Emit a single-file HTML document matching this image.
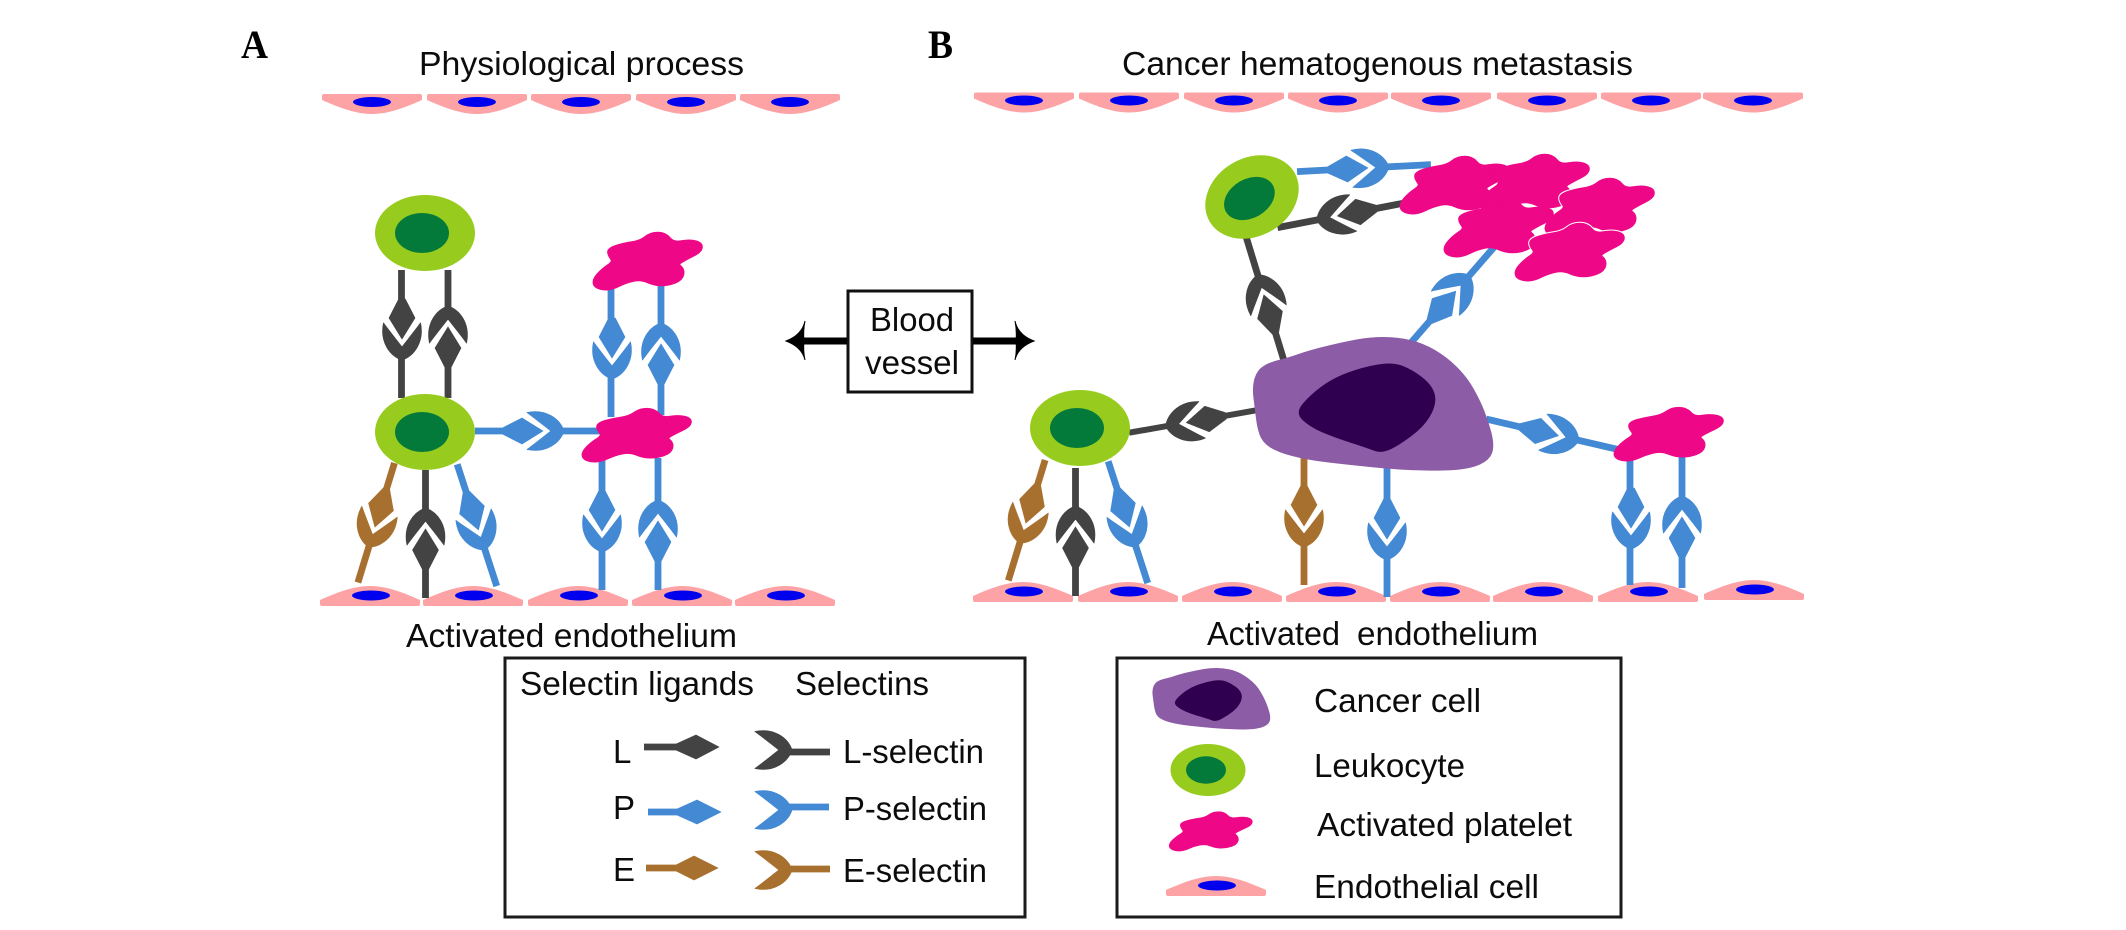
<!DOCTYPE html>
<html lang="en"><head><meta charset="utf-8"><title>Selectins in physiological process and cancer hematogenous metastasis</title>
<style>
html,body{margin:0;padding:0;background:#fff}
svg{display:block}
text{font-family:"Liberation Sans",Arial,sans-serif;font-size:33px;fill:#0c0c0c}
.h{font-family:"Liberation Serif",serif;font-weight:bold;font-size:40px;fill:#000}
.k{fill:#434343;stroke:#434343}
.u{fill:#4389d3;stroke:#4389d3}
.w{fill:#a8702f;stroke:#a8702f}
.ln{fill:none;stroke-width:6.8}
.pl{fill:#ee0787;stroke:#ee0787;stroke-width:4.5;stroke-linejoin:round}
.plw{fill:#fff;stroke:#fff;stroke-width:6.5;stroke-linejoin:round}
</style></head><body>
<svg xmlns="http://www.w3.org/2000/svg" width="2126" height="930" viewBox="0 0 2126 930">
<defs>
<path id="cp" d="M2,20L98,20Q100,20 100,18L100,14C82,6 66,0 50,0C34,0 18,6 0,14L0,18Q0,20 2,20Z"/>
<g id="bc"><use href="#cp" fill="#fda3a6"/><ellipse cx="51" cy="9.5" rx="19" ry="5" fill="#0000ee"/></g>
<g id="tc"><use href="#cp" fill="#fda3a6" transform="translate(0,20) scale(1,-1)"/><ellipse cx="50" cy="8" rx="19" ry="5" fill="#0000ee"/></g>
<path id="sel" stroke-width=".8" stroke-linejoin="round" d="M-18.5,5C-22.5,24 -12,38 0,42C12,38 22.5,24 18.5,5C15,10 7,20 0,29C-7,20 -15,10 -18.5,5Z"/>
<g id="pr"><path stroke-width=".6" d="M-3.3,-19L3.3,-19L13,0L0,21L-13,0Z"/><use href="#sel"/></g>
<g id="leu"><ellipse rx="50" ry="38" fill="#97cc1e"/><ellipse cx="-3" rx="27" ry="20" fill="#037a3a"/></g>
<path id="plt" d="M-31.5,-15Q-25,-17 -16,-18.5Q-7,-20 -2,-24Q3,-28 10,-28Q17,-28 21,-23Q25,-18 33.5,-19.5Q42,-21 47.5,-19.5Q53,-18 52.5,-14.5Q52,-11 45,-7.5Q38,-4 33,-1Q28,2 31.5,5Q35,8 34,12.5Q33,17 26.5,19.5Q20,22 13.5,22Q7,22 0,19Q-7,16 -14.5,17.5Q-22,19 -30,23Q-38,27 -45,26Q-52,25 -53,21.5Q-54,18 -49.5,13Q-45,8 -39,4Q-33,0 -36,-4Q-39,-8 -38.5,-10.5Q-38,-13 -31.5,-15Z"/>
<g id="can">
<path fill="#8d5ca6" d="M1278.5,360Q1287,358 1298.5,354Q1310,350 1326.5,346Q1343,342 1356.5,339.5Q1370,337 1383.5,337Q1397,337 1410,340Q1423,343 1435,350Q1447,357 1457,367Q1467,377 1473.5,388.5Q1480,400 1484,410Q1488,420 1491,431Q1494,442 1493,449.5Q1492,457 1484.5,462Q1477,467 1463.5,469Q1450,471 1425,470.5Q1400,470 1375,467.5Q1350,465 1328.5,462.5Q1307,460 1292,456Q1277,452 1269.5,447Q1262,442 1259.5,434.5Q1257,427 1256,418.5Q1255,410 1253.5,398.5Q1252,387 1254.5,378.5Q1257,370 1263.5,366Q1270,362 1278.5,360Z"/>
<path fill="#2f0050" d="M1302.5,404Q1310,395 1321.5,386.5Q1333,378 1348,372.5Q1363,367 1378,364.5Q1393,362 1403,366Q1413,370 1422.5,377.5Q1432,385 1434.5,393.5Q1437,402 1432,412.5Q1427,423 1417,431.5Q1407,440 1395,447Q1383,454 1375,451Q1367,448 1350,442.5Q1333,437 1321.5,432Q1310,427 1302.5,420Q1295,413 1302.5,404Z"/>
</g>
</defs>

<!-- headings -->
<text class="h" x="241" y="58" textLength="27" lengthAdjust="spacingAndGlyphs">A</text>
<text class="h" x="928" y="58" textLength="25" lengthAdjust="spacingAndGlyphs">B</text>
<text x="419" y="75" textLength="325" lengthAdjust="spacingAndGlyphs">Physiological process</text>
<text x="1122" y="75" textLength="511" lengthAdjust="spacingAndGlyphs">Cancer hematogenous metastasis</text>

<!-- top endothelium A -->
<use href="#tc" x="322" y="94"/><use href="#tc" x="427" y="94"/><use href="#tc" x="531" y="94"/><use href="#tc" x="636" y="94"/><use href="#tc" x="740" y="94"/>
<!-- top endothelium B -->
<use href="#tc" x="974" y="92.5"/><use href="#tc" x="1079" y="92.5"/><use href="#tc" x="1184" y="92.5"/><use href="#tc" x="1288" y="92.5"/><use href="#tc" x="1391" y="92.5"/><use href="#tc" x="1497" y="92.5"/><use href="#tc" x="1601" y="92.5"/><use href="#tc" x="1703" y="92.5"/>
<!-- bottom endothelium A -->
<use href="#bc" x="320" y="586"/><use href="#bc" x="423" y="586"/><use href="#bc" x="528" y="586"/><use href="#bc" x="632" y="586"/><use href="#bc" x="735" y="586"/>
<!-- bottom endothelium B -->
<use href="#bc" x="973" y="582"/><use href="#bc" x="1078" y="582"/><use href="#bc" x="1182" y="582"/><use href="#bc" x="1286" y="582"/><use href="#bc" x="1390" y="582"/><use href="#bc" x="1493" y="582"/><use href="#bc" x="1598" y="582"/><use href="#bc" x="1704" y="580"/>

<!-- panel A pairs -->
<g class="k" transform="translate(402,318)"><use href="#pr"/><path class="ln" d="M-.5,-48V-15M-.5,40V80"/></g>
<g class="k" transform="translate(448,348) rotate(180)"><use href="#pr"/><path class="ln" d="M0,-50V-15M0,40V78"/></g>
<g class="u" transform="translate(522,431) rotate(-90)"><use href="#pr"/><path class="ln" d="M0,-47V-15M0,40V85"/></g>
<g class="u" transform="translate(612,337)"><use href="#pr"/><path class="ln" d="M-1,-49V-15M-1,40V80"/></g>
<g class="u" transform="translate(661,365) rotate(180)"><use href="#pr"/><path class="ln" d="M0,-50V-15M0,40V82"/></g>
<g class="u" transform="translate(602,510)"><use href="#pr"/><path class="ln" d="M0,-52V-15M0,40V80"/></g>
<g class="u" transform="translate(658,542) rotate(180)"><use href="#pr"/><path class="ln" d="M0,-48V-15M0,40V84"/></g>
<g class="k" transform="translate(425.5,550) rotate(180)"><use href="#pr"/><path class="ln" d="M0,-48V-15M0,40V80"/></g>
<g class="w" transform="translate(381,507) rotate(17)"><use href="#pr"/><path class="ln" d="M0,-46V-15M0,40V79"/></g>
<g class="u" transform="translate(472,510) rotate(-18)"><use href="#pr"/><path class="ln" d="M0,-48V-15M0,40V80"/></g>

<!-- panel B pairs -->
<g class="w" transform="translate(1032,503) rotate(17)"><use href="#pr"/><path class="ln" d="M0,-45V-15M0,40V81"/></g>
<g class="k" transform="translate(1075.5,548) rotate(180)"><use href="#pr"/><path class="ln" d="M0,-48V-15M0,40V80"/></g>
<g class="u" transform="translate(1123,507) rotate(-18)"><use href="#pr"/><path class="ln" d="M0,-48V-15M0,40V80"/></g>
<g class="k" transform="translate(1207,419) rotate(80)"><use href="#pr"/><path class="ln" style="stroke-width:6" d="M0,-52V-15M0,40V79"/></g>
<g class="k" transform="translate(1270,315) rotate(163)"><use href="#pr"/><path class="ln" d="M0,-48V-15M0,40V81"/></g>
<g class="u" transform="translate(1347,169) rotate(-93)"><use href="#pr"/><path class="ln" d="M0,-50V-15M0,40V84"/></g>
<g class="k" transform="translate(1358,212) rotate(79)"><use href="#pr"/><path class="ln" d="M0,-52V-15M0,40V82"/></g>
<g class="u" transform="translate(1442,307) rotate(-139)"><use href="#pr"/><path class="ln" d="M0,-48V-15M0,40V85"/></g>
<g class="u" transform="translate(1538,431) rotate(-77)"><use href="#pr"/><path class="ln" d="M0,-53V-15M0,40V82"/></g>
<g class="u" transform="translate(1631,507)"><use href="#pr"/><path class="ln" d="M-1,-52V-15M-1,40V78"/></g>
<g class="u" transform="translate(1682,538) rotate(180)"><use href="#pr"/><path class="ln" d="M0,-50V-15M0,40V82"/></g>
<g class="w" transform="translate(1304,505)"><use href="#pr"/><path class="ln" d="M0,-47V-15M0,40V80"/></g>
<g class="u" transform="translate(1387,518)"><use href="#pr"/><path class="ln" d="M0,-52V-15M0,40V79"/></g>

<!-- leukocytes -->
<use href="#leu" x="425" y="233"/>
<use href="#leu" x="425" y="432"/>
<use href="#leu" x="1080" y="428"/>
<g transform="translate(1252,197) rotate(-30)"><ellipse rx="49" ry="39" fill="#97cc1e"/><ellipse cx="-3" rx="27" ry="19.5" fill="#037a3a"/></g>

<!-- platelets -->
<g class="pl"><use href="#plt" transform="translate(648,262)"/></g>
<g class="pl"><use href="#plt" transform="translate(637,436) scale(1,.93)"/></g>
<g class="pl"><use href="#plt" transform="translate(1669,435) scale(1,.93)"/></g>
<g class="pl"><use href="#plt" transform="translate(1455,186)"/><use href="#plt" transform="translate(1535,184)"/></g>
<g class="plw"><use href="#plt" transform="translate(1600,208)"/></g>
<g class="pl"><use href="#plt" transform="translate(1600,208)"/><use href="#plt" transform="translate(1499,229)"/></g>
<g class="plw"><use href="#plt" transform="translate(1570,253)"/></g>
<g class="pl"><use href="#plt" transform="translate(1570,253)"/></g>

<!-- cancer cell -->
<use href="#can"/>

<!-- blood vessel -->
<rect x="848" y="291" width="124" height="101" fill="#fff" stroke="#111" stroke-width="3"/>
<text x="870" y="331" textLength="84" lengthAdjust="spacingAndGlyphs">Blood</text>
<text x="865" y="374" textLength="94" lengthAdjust="spacingAndGlyphs">vessel</text>
<path d="M793,341H847" stroke="#000" stroke-width="7" fill="none"/>
<path d="M786,341Q802,335 805,321Q803,331 804,341Q803,351 805,360Q802,347 786,341Z" fill="#000" stroke="#000" stroke-width="1"/>
<path d="M973,341H1027" stroke="#000" stroke-width="7" fill="none"/>
<path d="M1034,341Q1018,335 1015,321Q1017,331 1016,341Q1017,351 1015,360Q1018,347 1034,341Z" fill="#000" stroke="#000" stroke-width="1"/>

<!-- captions -->
<text x="406" y="647" textLength="331" lengthAdjust="spacingAndGlyphs">Activated endothelium</text>
<text x="1207" y="645" textLength="133" lengthAdjust="spacingAndGlyphs">Activated</text>
<text x="1357" y="645" textLength="181" lengthAdjust="spacingAndGlyphs">endothelium</text>

<!-- legend A -->
<rect x="505" y="658" width="520" height="259" fill="#fff" stroke="#1a1a1a" stroke-width="3"/>
<text x="520" y="695" textLength="234" lengthAdjust="spacingAndGlyphs">Selectin ligands</text>
<text x="795" y="695" textLength="134" lengthAdjust="spacingAndGlyphs">Selectins</text>
<text x="613" y="763">L</text><text x="613" y="819">P</text><text x="613" y="881">E</text>
<text x="843" y="763" textLength="141" lengthAdjust="spacingAndGlyphs">L-selectin</text>
<text x="843" y="820" textLength="144" lengthAdjust="spacingAndGlyphs">P-selectin</text>
<text x="843" y="882" textLength="144" lengthAdjust="spacingAndGlyphs">E-selectin</text>
<g class="k"><path class="ln" d="M644,747H680"/><path stroke-width=".6" d="M676,744L696,735L719,747L696,759L676,750Z"/></g>
<g class="u"><path class="ln" d="M648,812H680"/><path stroke-width=".6" d="M677,809L697,800L721,812L697,824L677,815Z"/></g>
<g class="w"><path class="ln" d="M646,868H680"/><path stroke-width=".6" d="M676,865L694,856L718,868L694,880L676,871Z"/></g>
<g class="k"><use href="#sel" transform="translate(750,750) rotate(-90)"/><path class="ln" d="M788,752H830"/></g>
<g class="u"><use href="#sel" transform="translate(750,810) rotate(-90)"/><path class="ln" d="M788,807H829"/></g>
<g class="w"><use href="#sel" transform="translate(750,870) rotate(-90)"/><path class="ln" d="M788,869H830"/></g>

<!-- legend B -->
<rect x="1117" y="658" width="504" height="259" fill="#fff" stroke="#1a1a1a" stroke-width="3"/>
<g transform="translate(1152,668) scale(.49,.46) translate(-1252,-337)"><use href="#can"/></g>
<ellipse cx="1208" cy="770" rx="37.5" ry="26" fill="#97cc1e"/><ellipse cx="1206" cy="770" rx="20" ry="13.7" fill="#037a3a"/>
<g class="pl"><use href="#plt" transform="translate(1211,832) scale(.76,.68)"/></g>
<use href="#bc" x="1166" y="876"/>
<text x="1314" y="712" textLength="167" lengthAdjust="spacingAndGlyphs">Cancer cell</text>
<text x="1314" y="777" textLength="151" lengthAdjust="spacingAndGlyphs">Leukocyte</text>
<text x="1317" y="836" textLength="255" lengthAdjust="spacingAndGlyphs">Activated platelet</text>
<text x="1314" y="898" textLength="225" lengthAdjust="spacingAndGlyphs">Endothelial cell</text>
</svg>
</body></html>
